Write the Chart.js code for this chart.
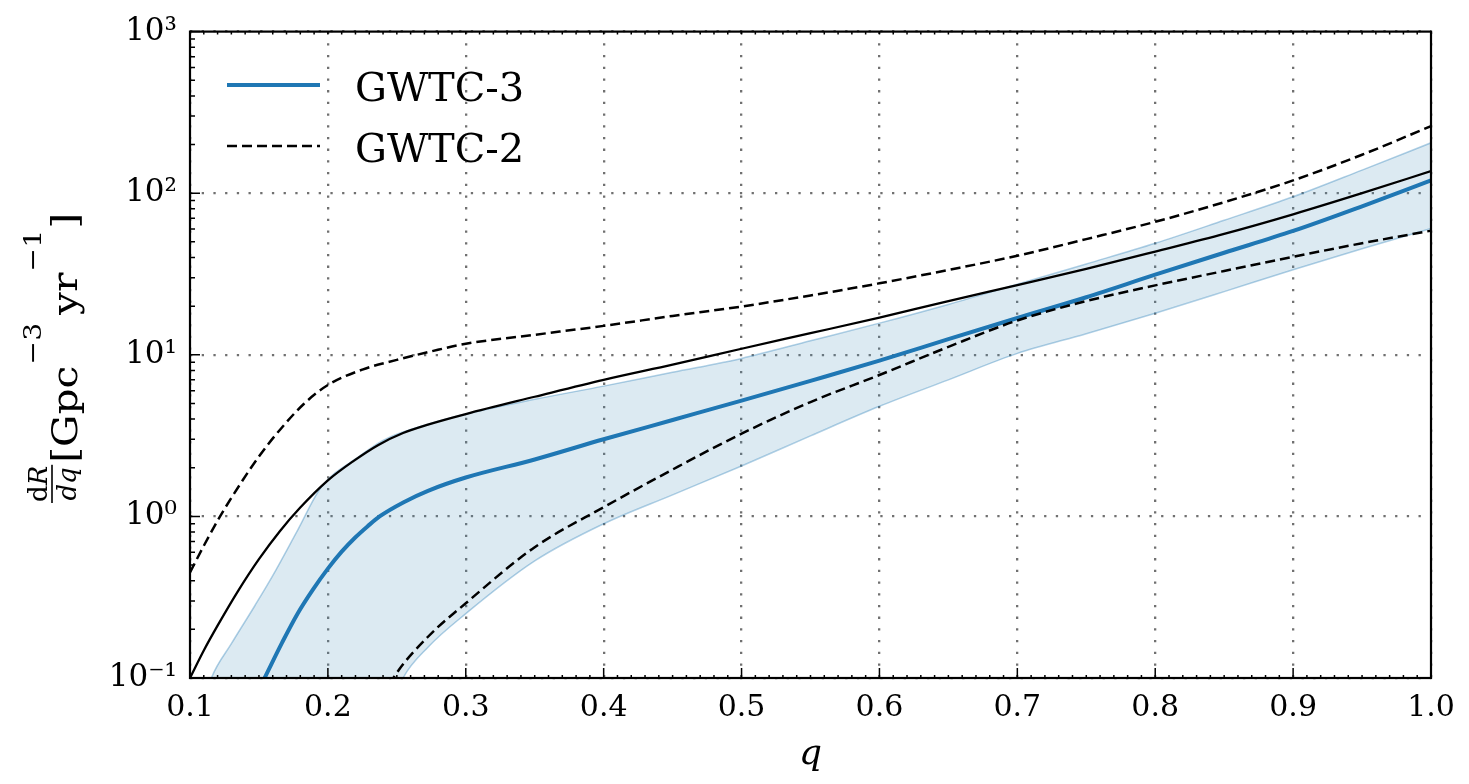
<!DOCTYPE html>
<html>
<head>
<meta charset="utf-8">
<script src="https://cdn.jsdelivr.net/npm/chart.js@4.4.1/dist/chart.umd.min.js"></script>
<style>
  html, body { margin: 0; padding: 0; background: #fff; }
</style>
</head>
<body>
<canvas id="rateChart" width="1469" height="784"></canvas>
<script>
// --- data (q = mass ratio, rate in Gpc^-3 yr^-1) ---

// solid black curve
const solidQ    = [0.10, 0.110, 0.1203, 0.1348, 0.15, 0.1653, 0.1798, 0.20, 0.2182, 0.2363, 0.2545, 0.2726, 0.30, 0.35, 0.40, 0.45, 0.50, 0.55, 0.60, 0.65, 0.70, 0.75, 0.80, 0.85, 0.90, 0.95, 1.00];
const solidRate = [0.10, 0.148, 0.213, 0.345, 0.544, 0.813, 1.13, 1.67, 2.19, 2.76, 3.28, 3.70, 4.3, 5.5, 7.0, 8.7, 10.9, 13.6, 17.0, 21.5, 27.0, 34.0, 43.5, 56.0, 74.0, 100.0, 137.0];

// GWTC-2 dashed bounds
const gwtc2UpperQ    = [0.10, 0.1109, 0.1218, 0.1363, 0.1508, 0.1653, 0.1827, 0.20, 0.225, 0.25, 0.275, 0.30, 0.35, 0.40, 0.45, 0.50, 0.55, 0.60, 0.65, 0.70, 0.75, 0.80, 0.85, 0.90, 0.95, 1.00];
const gwtc2UpperRate = [0.45, 0.68, 1.0, 1.58, 2.4, 3.44, 4.98, 6.5, 8.1, 9.3, 10.5, 11.7, 13.3, 15.1, 17.4, 19.9, 23.3, 27.7, 33.5, 41.0, 52.0, 66.5, 88.0, 120.0, 173.0, 260.0];
const gwtc2LowerQ    = [0.24, 0.2475, 0.2726, 0.30, 0.35, 0.40, 0.45, 0.50, 0.55, 0.60, 0.65, 0.70, 0.75, 0.80, 0.85, 0.90, 0.95, 1.00];
const gwtc2LowerRate = [0.075, 0.1, 0.18, 0.29, 0.645, 1.14, 1.95, 3.25, 5.1, 7.5, 11.2, 16.3, 21.5, 26.9, 33.0, 40.4, 49.0, 58.6];

// GWTC-3 median
const gwtc3Q      = [0.15, 0.1553, 0.1667, 0.178, 0.189, 0.20, 0.21, 0.22, 0.2287, 0.2375, 0.255, 0.2726, 0.30, 0.35, 0.40, 0.45, 0.50, 0.55, 0.60, 0.65, 0.70, 0.75, 0.80, 0.85, 0.90, 0.95, 1.00];
const gwtc3Median = [0.085, 0.105, 0.165, 0.25, 0.351, 0.475, 0.605, 0.743, 0.867, 1.0, 1.225, 1.44, 1.74, 2.25, 3.0, 3.95, 5.2, 6.9, 9.2, 12.5, 16.9, 22.7, 31.3, 42.8, 58.4, 83.0, 120.0];

// GWTC-3 credible band
const bandQ     = [0.11, 0.1155, 0.13, 0.147, 0.16, 0.178, 0.195, 0.2227, 0.24, 0.2545, 0.2726, 0.30, 0.35, 0.40, 0.45, 0.50, 0.55, 0.60, 0.65, 0.70, 0.75, 0.80, 0.85, 0.90, 0.95, 1.00];
const bandUpper = [0.07, 0.1, 0.163, 0.28, 0.43, 0.82, 1.51, 2.35, 2.95, 3.33, 3.72, 4.3, 5.3, 6.4, 7.8, 9.5, 12.2, 15.7, 20.5, 27.3, 36.5, 49.0, 68.0, 95.0, 139.0, 205.0];
const bandLower = [0.01, 0.01, 0.01, 0.01, 0.01, 0.01, 0.01, 0.01, 0.05, 0.1, 0.155, 0.25, 0.53, 0.9, 1.36, 2.05, 3.15, 4.8, 7.0, 10.2, 13.5, 18.1, 24.6, 33.6, 45.3, 60.5];

// axes
const xTickValues = [0.1, 0.2, 0.3, 0.4, 0.5, 0.6, 0.7, 0.8, 0.9, 1.0];
const xTickLabels = ['0.1', '0.2', '0.3', '0.4', '0.5', '0.6', '0.7', '0.8', '0.9', '1.0'];
const yDecades    = [-1, 0, 1, 2, 3];
const yTickLabels = ['10⁻¹', '10⁰', '10¹', '10²', '10³'];
const legendLabels = ['GWTC-3', 'GWTC-2'];

const C0 = '#1f77b4';
const serif = '"DejaVu Serif", "Liberation Serif", serif';

function toPoints(qs, vals) {
  return qs.map((q, i) => ({ x: q, y: vals[i] }));
}

function decadeIndex(v) {
  return yDecades.findIndex(d => Math.abs(Math.log10(v) - d) < 1e-6);
}

// y label: dR/dq [Gpc^-3 yr^-1], drawn rotated
function drawYTitle(ctx) {
  ctx.save();
  ctx.translate(77, 503);
  ctx.rotate(-Math.PI / 2);
  ctx.fillStyle = '#000';
  ctx.textBaseline = 'alphabetic';

  const fr = 26;
  ctx.font = fr + 'px ' + serif;
  const wd = ctx.measureText('d').width;
  ctx.font = 'italic ' + fr + 'px ' + serif;
  const wR = ctx.measureText('R').width;
  const wdq = ctx.measureText('dq').width;
  const fw = Math.max(wd + wR, wdq) + 2;
  const barV = -25;
  const u0 = (fw - (wd + wR)) / 2;
  ctx.font = fr + 'px ' + serif;
  ctx.fillText('d', u0, barV - 5);
  ctx.font = 'italic ' + fr + 'px ' + serif;
  ctx.fillText('R', u0 + wd, barV - 5);
  ctx.fillText('dq', (fw - wdq) / 2, barV + 4 + fr * 0.76);
  ctx.fillRect(0, barV - 0.8, fw, 1.6);

  // text, raise, size, gap before
  const parts = [['[Gpc', 0, 36, 0], ['−3', -36, 25, 1], ['yr', 0, 36, 7], ['−1', -36, 25, 1], [']', 0, 36, 1]];
  let natural = 0;
  parts.forEach(([t, , size, gap]) => {
    ctx.font = size + 'px ' + serif;
    natural += gap + ctx.measureText(t).width;
  });
  ctx.translate(fw + 2, 0);
  ctx.scale(250 / natural, 1);
  let pos = 0;
  parts.forEach(([t, dv, size, gap]) => {
    ctx.font = size + 'px ' + serif;
    pos += gap;
    ctx.fillText(t, pos, dv);
    pos += ctx.measureText(t).width;
  });
  ctx.restore();
}

// inward ticks, frame, legend and y label
const axisDecor = {
  id: 'axisDecor',
  afterDatasetsDraw(chart) {
    const { ctx, chartArea: a, scales: { x, y } } = chart;
    ctx.save();
    ctx.strokeStyle = '#000';
    ctx.lineWidth = 1.5;
    ctx.beginPath();
    for (let i = 10; i <= 100; i++) {
      const px = x.getPixelForValue(i / 100);
      const len = i % 10 === 0 ? 10 : 3;
      ctx.moveTo(px, a.bottom); ctx.lineTo(px, a.bottom - len);
      ctx.moveTo(px, a.top); ctx.lineTo(px, a.top + 3);
    }
    y.ticks.forEach(t => {
      const py = y.getPixelForValue(t.value);
      const len = decadeIndex(t.value) >= 0 ? 10 : 5;
      ctx.moveTo(a.left, py); ctx.lineTo(a.left + len, py);
    });
    ctx.stroke();

    ctx.lineWidth = 2.2;
    ctx.strokeRect(a.left, a.top, a.right - a.left, a.bottom - a.top);

    // legend
    let rowY = 85;
    legendLabels.forEach(name => {
      const ds = chart.data.datasets.find(d => d.label === name);
      ctx.save();
      ctx.strokeStyle = ds.borderColor;
      ctx.lineWidth = ds.borderWidth;
      ctx.setLineDash(ds.borderDash || []);
      ctx.beginPath();
      ctx.moveTo(227, rowY); ctx.lineTo(320, rowY);
      ctx.stroke();
      ctx.restore();
      ctx.fillStyle = '#000';
      ctx.font = '40px ' + serif;
      ctx.textBaseline = 'alphabetic';
      ctx.fillText(name, 355, rowY + 16);
      rowY += 61;
    });

    drawYTitle(ctx);
    ctx.restore();
  }
};

new Chart(document.getElementById('rateChart'), {
  type: 'line',
  data: {
    datasets: [
      {
        label: 'band upper',
        data: toPoints(bandQ, bandUpper),
        borderColor: 'rgba(31,119,180,0.35)',
        borderWidth: 1.5,
        backgroundColor: 'rgba(80,150,190,0.2)',
        fill: '+1',
        order: 6
      },
      {
        label: 'band lower',
        data: toPoints(bandQ, bandLower),
        borderColor: 'rgba(31,119,180,0.35)',
        borderWidth: 1.5,
        fill: false,
        order: 5
      },
      {
        label: 'GWTC-3',
        data: toPoints(gwtc3Q, gwtc3Median),
        borderColor: C0,
        borderWidth: 4,
        fill: false,
        order: 4
      },
      {
        label: 'solid',
        data: toPoints(solidQ, solidRate),
        borderColor: '#000',
        borderWidth: 2.3,
        fill: false,
        order: 3
      },
      {
        label: 'GWTC-2',
        data: toPoints(gwtc2UpperQ, gwtc2UpperRate),
        borderColor: '#000',
        borderWidth: 2.5,
        borderDash: [10, 5],
        fill: false,
        order: 2
      },
      {
        label: 'GWTC-2 lower',
        data: toPoints(gwtc2LowerQ, gwtc2LowerRate),
        borderColor: '#000',
        borderWidth: 2.5,
        borderDash: [10, 5],
        fill: false,
        order: 1
      }
    ]
  },
  options: {
    responsive: false,
    animation: false,
    elements: {
      point: { radius: 0 },
      line: { cubicInterpolationMode: 'monotone' }
    },
    layout: { padding: { left: 0, top: 29, right: 38, bottom: 0 } },
    plugins: {
      legend: { display: false },
      tooltip: { enabled: false }
    },
    scales: {
      x: {
        type: 'linear',
        min: 0.1,
        max: 1.0,
        afterBuildTicks: s => { s.ticks = xTickValues.map(v => ({ value: v })); },
        afterFit: s => { s.height = 106; },
        grid: { color: '#707070', lineWidth: 2.3, drawTicks: false },
        border: { display: false, dash: [2.3, 9.4] },
        ticks: {
          autoSkip: false,
          maxRotation: 0,
          padding: 12,
          color: '#000',
          font: { family: serif, size: 30 },
          callback: (v, i) => xTickLabels[i]
        },
        title: {
          display: true,
          text: 'q',
          color: '#000',
          font: { family: serif, size: 36, style: 'italic' },
          padding: { top: 0, bottom: 8 }
        }
      },
      y: {
        type: 'logarithmic',
        min: 0.1,
        max: 1000,
        afterBuildTicks: s => {
          const t = [];
          yDecades.forEach(d => {
            for (let m = 1; m <= 9; m++) {
              const v = m * Math.pow(10, d);
              if (v <= 1000.0001) t.push({ value: v });
            }
          });
          s.ticks = t;
        },
        afterFit: s => { s.width = 190; },
        grid: {
          color: c => (c.tick && decadeIndex(c.tick.value) >= 0) ? '#707070' : 'rgba(0,0,0,0)',
          lineWidth: 2.3,
          drawTicks: false
        },
        border: { display: false, dash: [2.3, 9.4] },
        ticks: {
          autoSkip: false,
          padding: 13,
          color: '#000',
          font: { family: serif, size: 31 },
          callback: v => {
            const k = decadeIndex(v);
            return k >= 0 ? yTickLabels[k] : '';
          }
        }
      }
    }
  },
  plugins: [axisDecor]
});
</script>
</body>
</html>
